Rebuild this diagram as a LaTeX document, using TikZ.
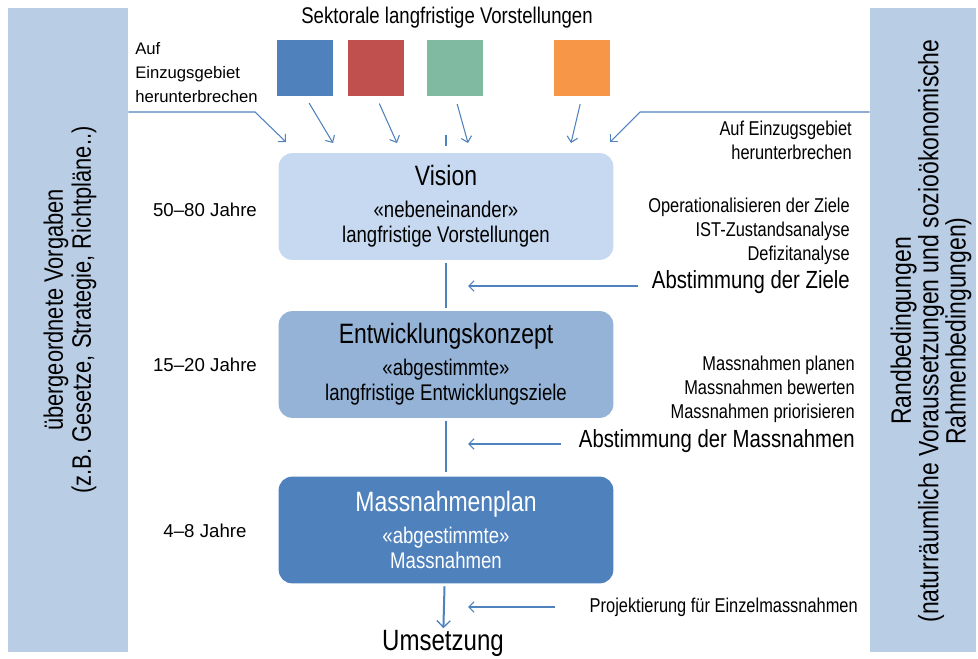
\documentclass[tikz,border=0pt]{standalone}
\usepackage{fontspec}
\setmainfont{Liberation Sans}
\newfontfamily\narrowfont{Liberation Sans}[FakeStretch=0.82]
\usepackage{tikz}
\usetikzlibrary{arrows.meta, positioning}
\definecolor{barblue}{RGB}{185, 205, 229}
\definecolor{visionblue}{RGB}{198, 217, 240}
\definecolor{konzeptblue}{RGB}{149, 179, 215}
\definecolor{planblue}{RGB}{79, 129, 189}
\definecolor{sektred}{RGB}{192, 80, 77}
\definecolor{sektgreen}{RGB}{128, 186, 160}
\definecolor{sektorange}{RGB}{247, 150, 70}

\tikzset{
  sidebar/.style={fill=barblue, minimum height=483pt, inner sep=0pt},
  bartext/.style={rotate=90, align=center, inner sep=0pt, font=\narrowfont\fontsize{20}{21}\selectfont},
  sector/.style={minimum size=42pt, inner sep=0pt},
  stage/.style={rounded corners=10pt, minimum width=251pt, minimum height=80pt, inner sep=0pt, align=center, font=\narrowfont\fontsize{17}{19}\selectfont},
  note/.style={anchor=east, align=right, inner sep=0pt, font=\narrowfont\fontsize{15}{18}\selectfont},
  abst/.style={anchor=east, inner sep=0pt, font=\narrowfont\fontsize{18.6}{22}\selectfont},
  jahre/.style={font=\fontsize{14}{17}\selectfont},
  flow/.style={draw=planblue, line width=0.8pt, -{Straight Barb[length=4pt, width=8pt]}},
  trunk/.style={draw=planblue, line width=1.5pt},
}

\begin{document}
\begin{tikzpicture}[x=0.75pt, y=-0.75pt]
  \useasboundingbox (0,0) rectangle (978,659);

  % Side bars
  \node[sidebar, minimum width=90pt] (leftbar) at (68,330) {};
  \node[sidebar, minimum width=79.5pt] (rightbar) at (923,330) {};
  \node[bartext] (vorgaben) at (70,310) {übergeordnete Vorgaben\\(z.B. Gesetze, Strategie, Richtpläne..)};
  \node[bartext, font=\narrowfont\fontsize{21}{19.5}\selectfont] (randbed) at (931,331) {Randbedingungen\\(naturräumliche Voraussetzungen und sozioökonomische\\Rahmenbedingungen)};

  % Sectoral visions
  \node[font=\narrowfont\fontsize{17}{19}\selectfont] (sektoral) at (447,18) {Sektorale langfristige Vorstellungen};
  \node[sector, fill=planblue] (sekt1) at (305,68) {};
  \node[sector, fill=sektred] (sekt2) at (376,68) {};
  \node[sector, fill=sektgreen] (sekt3) at (455,68) {};
  \node[sector, fill=sektorange] (sekt4) at (582,68) {};
  \node[anchor=west, align=left, inner sep=0pt, font=\fontsize{12.5}{18}\selectfont] (lauf) at (135,73) {Auf\\Einzugsgebiet\\herunterbrechen};
  \node[note] (rauf) at (852,140) {Auf Einzugsgebiet\\herunterbrechen};

  % Stages
  \node[stage, fill=visionblue] (vision) at (446,206.5) {{\fontsize{21}{19}\selectfont Vision}\\[5pt]«nebeneinander»\\langfristige Vorstellungen};
  \node[stage, fill=konzeptblue] (konzept) at (446,364.5) {{\fontsize{21}{19}\selectfont Entwicklungskonzept}\\[5pt]«abgestimmte»\\langfristige Entwicklungsziele};
  \node[stage, fill=planblue, text=white] (plan) at (446,530) {{\fontsize{21}{19}\selectfont Massnahmenplan}\\[5pt]«abgestimmte»\\Massnahmen};
  \node[inner sep=1pt, font=\narrowfont\fontsize{22}{24}\selectfont] (umsetzung) at (443,643) {Umsetzung};

  % Time spans
  \node[jahre] (jahre1) at (205,210) {50–80 Jahre};
  \node[jahre] (jahre2) at (205,365) {15–20 Jahre};
  \node[jahre] (jahre3) at (205,531) {4–8 Jahre};

  % Steps between the stages
  \node[note] (ziele) at (850,231) {Operationalisieren der Ziele\\IST-Zustandsanalyse\\Defizitanalyse};
  \node[abst] (abstziele) at (850,282) {Abstimmung der Ziele};
  \node[note] (massplan) at (855,389) {Massnahmen planen\\Massnahmen bewerten\\Massnahmen priorisieren};
  \node[abst] (abstmass) at (855,441) {Abstimmung der Massnahmen};
  \node[note] (projekt) at (858,607) {Projektierung für Einzelmassnahmen};

  % Inputs into the vision
  \coordinate (lknick) at (255,112);
  \coordinate (rknick) at (640,112);
  \coordinate (vin0) at (286,142);
  \coordinate (vin1) at (333,143);
  \coordinate (vin2) at (397,143);
  \coordinate (vin3) at (468,143);
  \coordinate (vin4) at (571,143);
  \coordinate (vin5) at (610,142);
  \draw[flow] (leftbar.east |- lknick) -- (lknick) -- (vin0);
  \draw[flow] (rightbar.west |- rknick) -- (rknick) -- (vin5);
  \draw[flow, shorten <=6pt] (sekt1.south) -- (vin1);
  \draw[flow, shorten <=6pt] (sekt2.south) -- (vin2);
  \draw[flow, shorten <=6pt] (sekt3.south) -- (vin3);
  \draw[flow, shorten <=6pt] (sekt4.south) -- (vin4);

  % Main line
  \coordinate (tick) at (446,135);
  \draw[trunk, shorten >=5pt] (tick) -- (vision);
  \draw[trunk, shorten <=2pt, shorten >=2pt] (vision) -- (konzept);
  \draw[trunk, shorten <=2pt, shorten >=3pt] (konzept) -- (plan);
  \draw[trunk, -{Straight Barb[length=5pt, width=10pt, line width=1pt]}, shorten <=2pt] (plan) -- (umsetzung);

  % Arrows from the steps
  \coordinate (zieltip) at (468,286);
  \coordinate (masstip) at (468,444);
  \coordinate (projtip) at (468,607);
  \draw[flow, shorten <=10pt] (abstziele.west |- zieltip) -- (zieltip);
  \draw[flow, shorten <=13pt] (abstmass.west |- masstip) -- (masstip);
  \draw[flow, shorten <=26pt] (projekt.west |- projtip) -- (projtip);
\end{tikzpicture}
\end{document}
